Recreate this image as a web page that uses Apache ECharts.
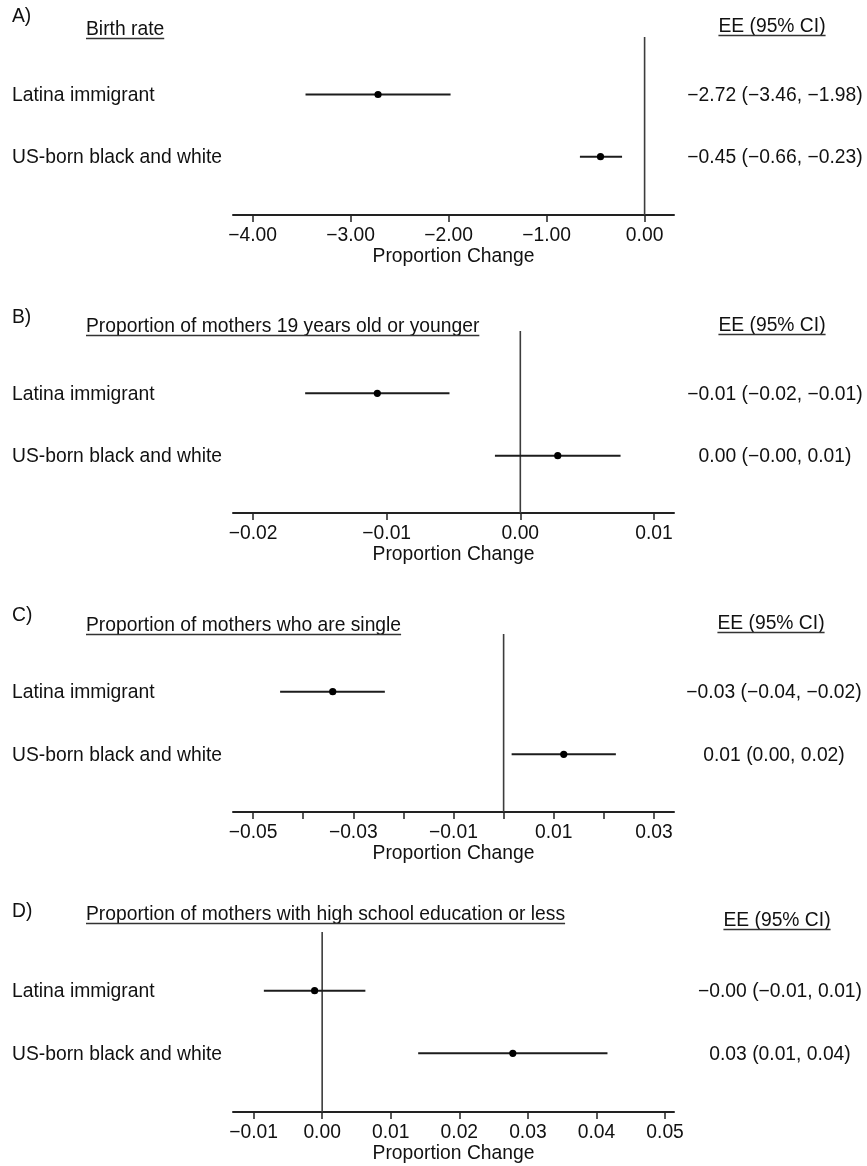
<!DOCTYPE html>
<html>
<head>
<meta charset="utf-8">
<script src="https://cdn.jsdelivr.net/npm/echarts@6/dist/echarts.min.js"></script>
<style>
  html, body { margin: 0; padding: 0; background: #fff; }
  #chart { width: 867px; height: 1166px; }
</style>
</head>
<body>
<div id="chart"></div>
<script>
// Groups compared in every panel
const groups = ['Latina immigrant', 'US-born black and white'];

// Panel titles and letters
const panelLetters = ['A)', 'B)', 'C)', 'D)'];
const panelTitles = [
  'Birth rate',
  'Proportion of mothers 19 years old or younger',
  'Proportion of mothers who are single',
  'Proportion of mothers with high school education or less'
];

// Effect estimates with 95% confidence bounds, one entry per group
const estA = [-2.72, -0.45];
const lowA = [-3.46, -0.66];
const highA = [-1.98, -0.23];

const estB = [-0.0107, 0.0028];
const lowB = [-0.0161, -0.0019];
const highB = [-0.0053, 0.0075];

const estC = [-0.0341, 0.0120];
const lowC = [-0.0446, 0.0016];
const highC = [-0.0237, 0.0224];

const estD = [-0.0011, 0.0278];
const lowD = [-0.0085, 0.0140];
const highD = [0.0063, 0.0416];

// Axis ticks and labelled ticks
const ticksA = [-4, -3, -2, -1, 0];
const ticksB = [-0.02, -0.01, 0, 0.01];
const ticksC = [-0.05, -0.04, -0.03, -0.02, -0.01, 0, 0.01, 0.02, 0.03];
const labelsC = [-0.05, -0.03, -0.01, 0.01, 0.03];
const ticksD = [-0.01, 0, 0.01, 0.02, 0.03, 0.04, 0.05];

const FONT = '"Liberation Sans", Arial, Helvetica, sans-serif';
const FS = 19.3;
const INK = '#111';

function fmt(v) {
  return v.toFixed(2).replace('-', '\u2212');
}

const panels = [
  { est: estA, low: lowA, high: highA, ticks: ticksA, labels: ticksA, min: -4.2, max: 0.3 },
  { est: estB, low: lowB, high: highB, ticks: ticksB, labels: ticksB, min: -0.0215, max: 0.0115 },
  { est: estC, low: lowC, high: highC, ticks: ticksC, labels: labelsC, min: -0.054, max: 0.034 },
  { est: estD, low: lowD, high: highD, ticks: ticksD, labels: ticksD, min: -0.013, max: 0.0513 }
];

// Vertical layout of each panel: top of the zero line, the two rows, the x axis
const layout = [
  { top: 37, r1: 94.5, r2: 156.7, axis: 215, letterY: 17, titleY: 30, eeY: 27, eeX: 772 },
  { top: 331, r1: 393.3, r2: 455.7, axis: 513, letterY: 318, titleY: 327, eeY: 326, eeX: 772 },
  { top: 634, r1: 691.7, r2: 754.3, axis: 812, letterY: 616, titleY: 626, eeY: 624, eeX: 771 },
  { top: 932, r1: 990.7, r2: 1053.3, axis: 1112, letterY: 912, titleY: 915, eeY: 921, eeX: 777 }
];

const GRID_LEFT = 233;
const GRID_WIDTH = 441;

const grids = [], xAxes = [], yAxes = [], series = [];

panels.forEach((p, i) => {
  const L = layout[i];
  const step = L.r2 - L.r1;
  const yMin = 1 - (L.r1 - L.top) / step;
  const yMax = 2 + (L.axis - L.r2) / step;

  grids.push({ left: GRID_LEFT, width: GRID_WIDTH, top: L.top, height: L.axis - L.top });

  xAxes.push({
    type: 'value',
    gridIndex: i,
    min: p.min,
    max: p.max,
    position: 'bottom',
    splitLine: { show: false },
    axisLine: { show: true, onZero: false, lineStyle: { color: '#222', width: 2 } },
    axisTick: { show: true, length: 7, customValues: p.ticks, lineStyle: { color: '#222', width: 1.5 } },
    axisLabel: {
      customValues: p.labels,
      formatter: v => fmt(v),
      margin: 11,
      fontFamily: FONT, fontSize: FS, color: INK
    },
    name: 'Proportion Change',
    nameLocation: 'middle',
    nameGap: 32,
    nameTextStyle: { fontFamily: FONT, fontSize: FS, color: INK }
  });

  yAxes.push({
    type: 'value',
    gridIndex: i,
    min: yMin,
    max: yMax,
    inverse: true,
    show: false
  });

  // reference line at zero
  series.push({
    type: 'line',
    xAxisIndex: i,
    yAxisIndex: i,
    data: [[0, yMin], [0, yMax]],
    symbol: 'none',
    silent: true,
    lineStyle: { color: '#3c3c3c', width: 1.6 },
    z: 1
  });

  // estimate with confidence interval
  series.push({
    type: 'custom',
    xAxisIndex: i,
    yAxisIndex: i,
    data: groups.map((g, k) => [p.est[k], k + 1, p.low[k], p.high[k]]),
    encode: { x: [0, 2, 3], y: 1 },
    renderItem: (params, api) => {
      const row = api.value(1);
      const a = api.coord([api.value(2), row]);
      const b = api.coord([api.value(3), row]);
      const c = api.coord([api.value(0), row]);
      return {
        type: 'group',
        children: [
          { type: 'line', shape: { x1: a[0], y1: a[1], x2: b[0], y2: b[1] },
            style: { stroke: '#1c1c1c', lineWidth: 2 } },
          { type: 'circle', shape: { cx: c[0], cy: c[1], r: 3.6 },
            style: { fill: '#000' } }
        ]
      };
    },
    z: 2
  });
});

const chart = echarts.init(document.getElementById('chart'), null, { renderer: 'canvas' });
chart.setOption({
  animation: false,
  backgroundColor: '#fff',
  grid: grids,
  xAxis: xAxes,
  yAxis: yAxes,
  series: series
});

// text measuring for underlines
const measureCtx = document.createElement('canvas').getContext('2d');
measureCtx.font = FS + 'px ' + FONT;
const textWidth = s => measureCtx.measureText(s).width;

const graphics = [];
const textStyle = (extra) => Object.assign({ font: FS + 'px ' + FONT, fill: INK, textVerticalAlign: 'middle' }, extra);

panels.forEach((p, i) => {
  const L = layout[i];
  // panel letter
  graphics.push({ type: 'text', x: 12, y: L.letterY,
    style: textStyle({ text: panelLetters[i], textAlign: 'left' }) });
  // underlined title
  graphics.push({ type: 'text', x: 86, y: L.titleY,
    style: textStyle({ text: panelTitles[i], textAlign: 'left' }) });
  const tw = textWidth(panelTitles[i]);
  graphics.push({ type: 'line', shape: { x1: 86, y1: L.titleY + 8.5, x2: 86 + tw, y2: L.titleY + 8.5 },
    style: { stroke: '#333', lineWidth: 1.5 } });
  // column header
  const ee = 'EE (95% CI)';
  const ew = textWidth(ee);
  graphics.push({ type: 'text', x: L.eeX, y: L.eeY,
    style: textStyle({ text: ee, textAlign: 'center' }) });
  graphics.push({ type: 'line', shape: { x1: L.eeX - ew / 2, y1: L.eeY + 8.5, x2: L.eeX + ew / 2, y2: L.eeY + 8.5 },
    style: { stroke: '#333', lineWidth: 1.5 } });

  groups.forEach((g, k) => {
    const rowY = chart.convertToPixel({ gridIndex: i }, [p.est[k], k + 1])[1];
    graphics.push({ type: 'text', x: 12, y: rowY + 1,
      style: textStyle({ text: g, textAlign: 'left' }) });
    const valueText = fmt(p.est[k]) + ' (' + fmt(p.low[k]) + ', ' + fmt(p.high[k]) + ')';
    graphics.push({ type: 'text', x: L.eeX + 3, y: rowY + 1,
      style: textStyle({ text: valueText, textAlign: 'center' }) });
  });
});

chart.setOption({ graphic: graphics });
</script>
</body>
</html>
